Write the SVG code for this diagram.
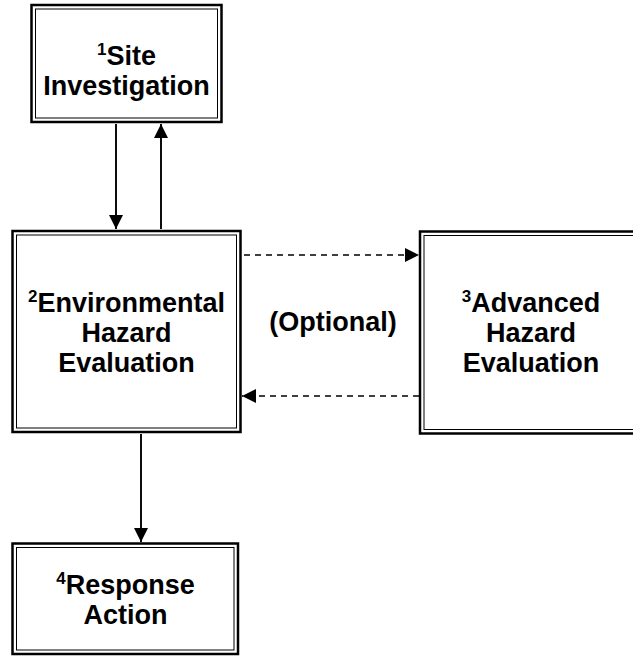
<svg xmlns="http://www.w3.org/2000/svg" width="633" height="657" viewBox="0 0 633 657">
<defs>
<style>
.o{fill:none;stroke:#000;stroke-width:2.5}
.i{fill:none;stroke:#000;stroke-width:1}
.t{font-family:"Liberation Sans",Arial,sans-serif;font-weight:bold;font-size:27px;fill:#000;text-anchor:middle}
.s{font-size:17px}
.c{stroke:#000;stroke-width:1.9;fill:none}
.d{stroke-dasharray:6 5;stroke-width:1.6}
</style>
<marker id="ah" viewBox="0 0 10 10" refX="10" refY="5" markerWidth="14" markerHeight="14" markerUnits="userSpaceOnUse" orient="auto">
<path d="M0,0 L10,5 L0,10 Z" fill="#000"/>
</marker>
</defs>
<rect width="633" height="657" fill="#fff"/>
<g id="connectors">
<line class="c" x1="116" y1="124" x2="116" y2="229" marker-end="url(#ah)"/>
<line class="c" x1="161" y1="229" x2="161" y2="124" marker-end="url(#ah)"/>
<line class="c d" x1="244" y1="255" x2="419" y2="255" marker-end="url(#ah)"/>
<line class="c d" x1="419" y1="396" x2="242" y2="396" marker-end="url(#ah)"/>
<line class="c" x1="141" y1="434" x2="141" y2="542" marker-end="url(#ah)"/>
</g>
<g id="site-investigation">
<rect class="o" x="31.5" y="5" width="190" height="117"/>
<rect class="i" x="35.5" y="9" width="182" height="109"/>
<text class="t" x="126.5" y="65"><tspan class="s" dy="-10">1</tspan><tspan dy="10">Site</tspan></text>
<text class="t" x="126.5" y="95">Investigation</text>
</g>
<g id="environmental-hazard-evaluation">
<rect class="o" x="12.5" y="231" width="228" height="201"/>
<rect class="i" x="16.5" y="235" width="220" height="193"/>
<text class="t" x="126.5" y="312"><tspan class="s" dy="-10">2</tspan><tspan dy="10">Environmental</tspan></text>
<text class="t" x="126.5" y="342">Hazard</text>
<text class="t" x="126.5" y="372">Evaluation</text>
</g>
<g id="optional-label">
<text class="t" x="333" y="331">(Optional)</text>
</g>
<g id="advanced-hazard-evaluation">
<rect class="o" x="420" y="231.5" width="222" height="202"/>
<rect class="i" x="424" y="235.5" width="214" height="194"/>
<text class="t" x="531" y="312"><tspan class="s" dy="-10">3</tspan><tspan dy="10">Advanced</tspan></text>
<text class="t" x="531" y="342">Hazard</text>
<text class="t" x="531" y="372">Evaluation</text>
</g>
<g id="response-action">
<rect class="o" x="12.5" y="543.5" width="225.5" height="110.5"/>
<rect class="i" x="16.5" y="547.5" width="217.5" height="102.5"/>
<text class="t" x="125.5" y="594"><tspan class="s" dy="-10">4</tspan><tspan dy="10">Response</tspan></text>
<text class="t" x="125.5" y="624">Action</text>
</g>
</svg>
